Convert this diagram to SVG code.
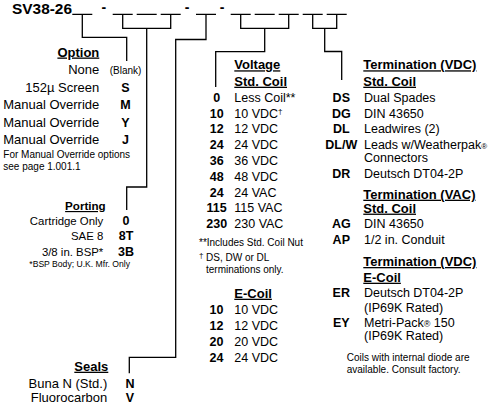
<svg xmlns="http://www.w3.org/2000/svg" width="496" height="408" viewBox="0 0 496 408">
<style>
text{font-family:"Liberation Sans",Arial,Helvetica,sans-serif;fill:#000}
.h{font-weight:bold;font-size:13px;text-decoration:underline}
.r{font-size:12.5px}
.r13{font-size:13px}
.p{font-size:11.4px}
.c{font-weight:bold;font-size:12.5px;text-anchor:middle}
.s{font-size:10px}
.e{text-anchor:end}
.ln{stroke:#000;stroke-width:1.3;fill:none}
</style>
<rect width="496" height="408" fill="#fff"/>
<g id="title">
<text x="12" y="13.5" font-weight="bold" font-size="15" textLength="60" lengthAdjust="spacingAndGlyphs">SV38-26</text>
<text x="103.8" y="11.5" font-weight="bold" font-size="14" text-anchor="middle">-</text>
<text x="187.2" y="11.5" font-weight="bold" font-size="14" text-anchor="middle">-</text>
<text x="222" y="11.5" font-weight="bold" font-size="14" text-anchor="middle">-</text>
<path class="ln" d="M72.3,14.3H92.3M112.7,14.3H132.7M136.7,14.3H156.7M160.7,14.3H180.7M196,14.3H216M230.7,14.3H250.7M254.7,14.3H274.7M278.7,14.3H298.7M302.7,14.3H322.7M326.7,14.3H346.7"/>
</g>
<g id="connectors">
<path class="ln" d="M82.3,14.3V37.3H126.7V61"/>
<path class="ln" d="M122.7,14.3V28.3H170.7V14.3M146.7,28.3V187H126.7V210"/>
<path class="ln" d="M206,14.3V39.5H175.7V357.3H129.3V373.3"/>
<path class="ln" d="M240.7,14.3V28.3H288.7V14.3M264.7,28.3V51.7H215.7V87"/>
<path class="ln" d="M312.7,14.3V28.3H336.7V14.3M324.7,28.3V51.5H341.7V80"/>
</g>
<g id="option">
<text class="h e" x="99.3" y="56.5">Option</text>
<text class="r13 e" x="99.3" y="74">None</text>
<text class="s" x="125.5" y="74" text-anchor="middle">(Blank)</text>
<text class="r13 e" x="99.3" y="91.5">152µ Screen</text>
<text class="c" x="125.5" y="91.5">S</text>
<text class="r13 e" x="99.3" y="109">Manual Override</text>
<text class="c" x="125.5" y="109">M</text>
<text class="r13 e" x="99.3" y="126.5">Manual Override</text>
<text class="c" x="125.5" y="126.5">Y</text>
<text class="r13 e" x="99.3" y="144">Manual Override</text>
<text class="c" x="125.5" y="144">J</text>
<text class="s" x="3.3" y="157.5">For Manual Override options</text>
<text class="s" x="3.3" y="170">see page 1.001.1</text>
</g>
<g id="porting">
<text class="e" x="105.7" y="210" font-weight="bold" font-size="11.6" text-decoration="underline">Porting</text>
<text class="p e" x="103.3" y="225">Cartridge Only</text>
<text class="c" x="126" y="225" font-size="12">0</text>
<text class="p e" x="103.3" y="240.3">SAE 8</text>
<text class="c" x="126" y="240.3" font-size="12">8T</text>
<text class="p e" x="103.3" y="255.7">3/8 in. BSP*</text>
<text class="c" x="126" y="255.7" font-size="12">3B</text>
<text x="29.3" y="267.3" font-size="9.5" textLength="100.7" lengthAdjust="spacingAndGlyphs">*BSP Body; U.K. Mfr. Only</text>
</g>
<g id="seals">
<text class="h e" x="108.3" y="370.7">Seals</text>
<text class="r13 e" x="107.3" y="387.7">Buna N (Std.)</text>
<text class="c" x="130" y="387.7">N</text>
<text class="r13 e" x="107.3" y="402.3">Fluorocarbon</text>
<text class="c" x="130" y="402.3">V</text>
</g>
<g id="voltage">
<text class="h" x="234.3" y="69.3">Voltage</text>
<text class="h" x="234.3" y="85.7">Std. Coil</text>
<text class="c" x="216.7" y="101.7">0</text><text class="r" x="234.3" y="101.7">Less Coil**</text>
<text class="c" x="216.7" y="117.5">10</text><text class="r" x="234.3" y="117.5">10 VDC<tspan font-size="8" dy="-4">†</tspan></text>
<text class="c" x="216.7" y="133.3">12</text><text class="r" x="234.3" y="133.3">12 VDC</text>
<text class="c" x="216.7" y="149.1">24</text><text class="r" x="234.3" y="149.1">24 VDC</text>
<text class="c" x="216.7" y="164.9">36</text><text class="r" x="234.3" y="164.9">36 VDC</text>
<text class="c" x="216.7" y="180.7">48</text><text class="r" x="234.3" y="180.7">48 VDC</text>
<text class="c" x="216.7" y="196.5">24</text><text class="r" x="234.3" y="196.5">24 VAC</text>
<text class="c" x="216.7" y="212.3">115</text><text class="r" x="234.3" y="212.3">115 VAC</text>
<text class="c" x="216.7" y="228.1">230</text><text class="r" x="234.3" y="228.1">230 VAC</text>
<text class="s" x="199" y="246">**Includes Std. Coil Nut</text>
<text x="199" y="258" font-size="8">†</text>
<text class="s" x="206" y="261">DS, DW or DL</text>
<text class="s" x="206" y="273.3">terminations only.</text>
</g>
<g id="ecoil">
<text class="h" x="234.3" y="297.7">E-Coil</text>
<text class="c" x="216.5" y="314.3">10</text><text class="r" x="234.3" y="314.3">10 VDC</text>
<text class="c" x="216.5" y="330">12</text><text class="r" x="234.3" y="330">12 VDC</text>
<text class="c" x="216.5" y="346">20</text><text class="r" x="234.3" y="346">20 VDC</text>
<text class="c" x="216.5" y="361.7">24</text><text class="r" x="234.3" y="361.7">24 VDC</text>
</g>
<g id="term-vdc">
<text class="h" x="363.3" y="69.3">Termination (VDC)</text>
<text class="h" x="363.3" y="85.7">Std. Coil</text>
<text class="c" x="341.3" y="101.7">DS</text><text class="r" x="364" y="101.7">Dual Spades</text>
<text class="c" x="341.3" y="117.7">DG</text><text class="r" x="364" y="117.7">DIN 43650</text>
<text class="c" x="341.3" y="133.3">DL</text><text class="r" x="364" y="133.3">Leadwires (2)</text>
<text class="c" x="341.3" y="149">DL/W</text><text class="r" x="364" y="149">Leads w/Weatherpak<tspan font-size="8">®</tspan></text>
<text class="r" x="364" y="162.3">Connectors</text>
<text class="c" x="341.3" y="177.7">DR</text><text class="r" x="364" y="177.7">Deutsch DT04-2P</text>
</g>
<g id="term-vac">
<text class="h" x="363.3" y="198.7">Termination (VAC)</text>
<text class="h" x="363.3" y="212.6">Std. Coil</text>
<text class="c" x="341.3" y="227.7">AG</text><text class="r" x="364" y="227.7">DIN 43650</text>
<text class="c" x="341.3" y="244">AP</text><text class="r" x="364" y="244">1/2 in. Conduit</text>
</g>
<g id="term-ecoil">
<text class="h" x="363.3" y="266">Termination (VDC)</text>
<text class="h" x="363.3" y="281.7">E-Coil</text>
<text class="c" x="341.3" y="297.3">ER</text><text class="r" x="364" y="297.3">Deutsch DT04-2P</text>
<text class="r" x="364" y="311.7">(IP69K Rated)</text>
<text class="c" x="341.3" y="327.3">EY</text><text class="r" x="364" y="327.3">Metri-Pack<tspan font-size="9">®</tspan> 150</text>
<text class="r" x="364" y="340">(IP69K Rated)</text>
<text class="s" x="346.7" y="361">Coils with internal diode are</text>
<text class="s" x="346.7" y="372.7">available. Consult factory.</text>
</g>
</svg>
